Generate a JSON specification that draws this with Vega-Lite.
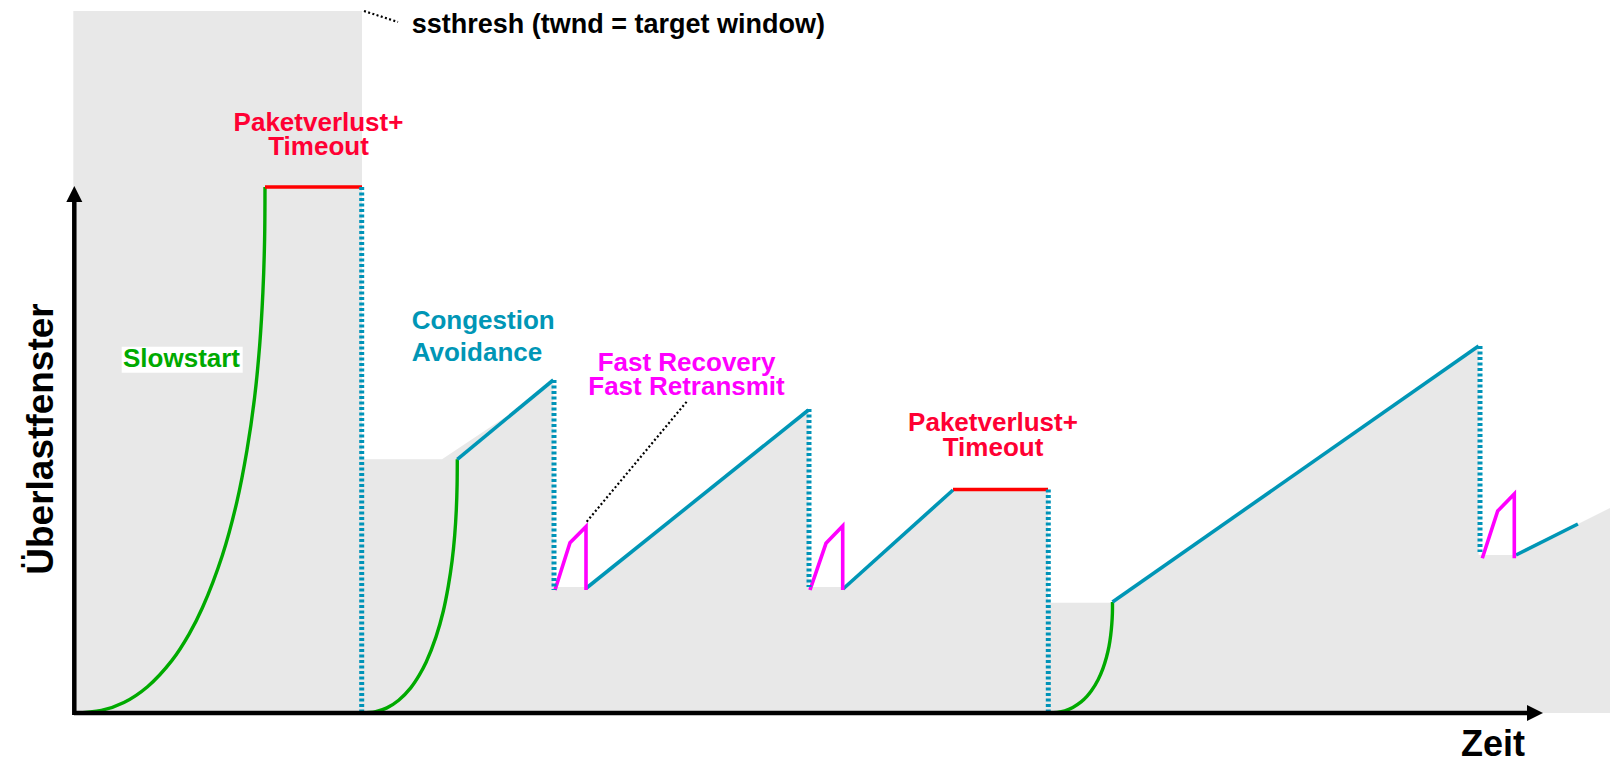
{
 "$schema": "https://vega.github.io/schema/vega-lite/v6.json",
 "width": 1610, "height": 764, "padding": 0,
 "autosize": {"type": "fit", "contains": "padding"},
 "background": "white",
 "config": {"view": {"stroke": null}},
 "datasets": {
  "band": [
   {"t":-0.7,"w":702},{"t":288,"w":702},{"t":288.01,"w":253.7},{"t":368,"w":253.7},
   {"t":439,"w":301},{"t":479.3,"w":333},{"t":479.31,"w":126},{"t":512,"w":126},
   {"t":734.5,"w":303},{"t":734.51,"w":126},{"t":769,"w":126},{"t":879,"w":223.5},
   {"t":974,"w":223.5},{"t":974.01,"w":110.3},{"t":1038.5,"w":110.3},{"t":1404.6,"w":367},
   {"t":1404.61,"w":158},{"t":1442,"w":158},{"t":1536,"w":205}
  ],
  "segs": [
   {"seg":"g1","kind":"slowstart","i":0,"t":0,"w":0},{"seg":"g1","kind":"slowstart","i":1,"t":27.4,"w":2.6},
   {"seg":"g1","kind":"slowstart","i":2,"t":49.9,"w":10.5},{"seg":"g1","kind":"slowstart","i":3,"t":73.5,"w":26.3},
   {"seg":"g1","kind":"slowstart","i":4,"t":98.0,"w":52.6},{"seg":"g1","kind":"slowstart","i":5,"t":115.1,"w":78.9},
   {"seg":"g1","kind":"slowstart","i":6,"t":128.4,"w":105.2},{"seg":"g1","kind":"slowstart","i":7,"t":148.4,"w":157.8},
   {"seg":"g1","kind":"slowstart","i":8,"t":162.7,"w":210.4},{"seg":"g1","kind":"slowstart","i":9,"t":173.0,"w":263},
   {"seg":"g1","kind":"slowstart","i":10,"t":180.6,"w":315.6},{"seg":"g1","kind":"slowstart","i":11,"t":185.7,"w":368.2},
   {"seg":"g1","kind":"slowstart","i":12,"t":188.9,"w":420.8},{"seg":"g1","kind":"slowstart","i":13,"t":190.6,"w":473.4},
   {"seg":"g1","kind":"slowstart","i":14,"t":191,"w":526},
   {"seg":"g2","kind":"slowstart","i":0,"t":288,"w":0},{"seg":"g2","kind":"slowstart","i":1,"t":301.7,"w":1.3},
   {"seg":"g2","kind":"slowstart","i":2,"t":312.9,"w":5.1},{"seg":"g2","kind":"slowstart","i":3,"t":324.7,"w":12.7},
   {"seg":"g2","kind":"slowstart","i":4,"t":336.9,"w":25.4},{"seg":"g2","kind":"slowstart","i":5,"t":345.4,"w":38.1},
   {"seg":"g2","kind":"slowstart","i":6,"t":352.1,"w":50.7},{"seg":"g2","kind":"slowstart","i":7,"t":362.0,"w":76.1},
   {"seg":"g2","kind":"slowstart","i":8,"t":369.2,"w":101.5},{"seg":"g2","kind":"slowstart","i":9,"t":374.3,"w":126.9},
   {"seg":"g2","kind":"slowstart","i":10,"t":378.1,"w":152.2},{"seg":"g2","kind":"slowstart","i":11,"t":380.7,"w":177.6},
   {"seg":"g2","kind":"slowstart","i":12,"t":382.3,"w":203},{"seg":"g2","kind":"slowstart","i":13,"t":383.1,"w":228.3},
   {"seg":"g2","kind":"slowstart","i":14,"t":383.3,"w":253.7},
   {"seg":"g3","kind":"slowstart","i":0,"t":974,"w":0},{"seg":"g3","kind":"slowstart","i":1,"t":983.2,"w":0.6},
   {"seg":"g3","kind":"slowstart","i":2,"t":990.8,"w":2.2},{"seg":"g3","kind":"slowstart","i":3,"t":998.8,"w":5.6},
   {"seg":"g3","kind":"slowstart","i":4,"t":1007.1,"w":11.1},{"seg":"g3","kind":"slowstart","i":5,"t":1012.9,"w":16.7},
   {"seg":"g3","kind":"slowstart","i":6,"t":1017.4,"w":22.2},{"seg":"g3","kind":"slowstart","i":7,"t":1024.1,"w":33.3},
   {"seg":"g3","kind":"slowstart","i":8,"t":1028.9,"w":44.4},{"seg":"g3","kind":"slowstart","i":9,"t":1032.4,"w":55.5},
   {"seg":"g3","kind":"slowstart","i":10,"t":1035.0,"w":66.6},{"seg":"g3","kind":"slowstart","i":11,"t":1036.7,"w":77.7},
   {"seg":"g3","kind":"slowstart","i":12,"t":1037.8,"w":88.8},{"seg":"g3","kind":"slowstart","i":13,"t":1038.4,"w":99.9},
   {"seg":"g3","kind":"slowstart","i":14,"t":1038.5,"w":111},
   {"seg":"r1","kind":"timeout","i":0,"t":191,"w":526},{"seg":"r1","kind":"timeout","i":1,"t":288,"w":526},
   {"seg":"r2","kind":"timeout","i":0,"t":879,"w":223.5},{"seg":"r2","kind":"timeout","i":1,"t":974,"w":223.5},
   {"seg":"b1","kind":"avoidance","i":0,"t":383.3,"w":253.7},{"seg":"b1","kind":"avoidance","i":1,"t":479.3,"w":333},
   {"seg":"b2","kind":"avoidance","i":0,"t":512.5,"w":125},{"seg":"b2","kind":"avoidance","i":1,"t":734.5,"w":303},
   {"seg":"b3","kind":"avoidance","i":0,"t":769,"w":124},{"seg":"b3","kind":"avoidance","i":1,"t":879,"w":223},
   {"seg":"b4","kind":"avoidance","i":0,"t":1038.5,"w":111},{"seg":"b4","kind":"avoidance","i":1,"t":1404.6,"w":367},
   {"seg":"b5","kind":"avoidance","i":0,"t":1442,"w":158},{"seg":"b5","kind":"avoidance","i":1,"t":1503.9,"w":189},
   {"seg":"m1","kind":"recovery","i":0,"t":481,"w":123},{"seg":"m1","kind":"recovery","i":1,"t":496,"w":170.3},
   {"seg":"m1","kind":"recovery","i":2,"t":512,"w":186.3},{"seg":"m1","kind":"recovery","i":3,"t":512,"w":123},
   {"seg":"m2","kind":"recovery","i":0,"t":736,"w":123},{"seg":"m2","kind":"recovery","i":1,"t":752,"w":169.7},
   {"seg":"m2","kind":"recovery","i":2,"t":768.7,"w":187},{"seg":"m2","kind":"recovery","i":3,"t":768.7,"w":123},
   {"seg":"m3","kind":"recovery","i":0,"t":1408.3,"w":154.7},{"seg":"m3","kind":"recovery","i":1,"t":1423.7,"w":202},
   {"seg":"m3","kind":"recovery","i":2,"t":1440.3,"w":219},{"seg":"m3","kind":"recovery","i":3,"t":1440.3,"w":154.7},
   {"seg":"d1","kind":"threshold","i":0,"t":287.7,"w":526},{"seg":"d1","kind":"threshold","i":1,"t":287.7,"w":0},
   {"seg":"d2","kind":"threshold","i":0,"t":480,"w":333},{"seg":"d2","kind":"threshold","i":1,"t":480,"w":123},
   {"seg":"d3","kind":"threshold","i":0,"t":735,"w":304},{"seg":"d3","kind":"threshold","i":1,"t":735,"w":126},
   {"seg":"d4","kind":"threshold","i":0,"t":974.3,"w":223.5},{"seg":"d4","kind":"threshold","i":1,"t":974.3,"w":0},
   {"seg":"d5","kind":"threshold","i":0,"t":1406,"w":367},{"seg":"d5","kind":"threshold","i":1,"t":1406,"w":161},
   {"seg":"a1","kind":"pointer","i":0,"t":290,"w":702},{"seg":"a1","kind":"pointer","i":1,"t":324,"w":691},
   {"seg":"a2","kind":"pointer","i":0,"t":512.7,"w":191.3},{"seg":"a2","kind":"pointer","i":1,"t":612.7,"w":311.3},
   {"seg":"ay","kind":"axis","i":0,"t":0.3,"w":-2},{"seg":"ay","kind":"axis","i":1,"t":0.3,"w":511},
   {"seg":"ax","kind":"axis","i":0,"t":0,"w":0},{"seg":"ax","kind":"axis","i":1,"t":1456,"w":0},
   {"seg":"bx","kind":"labelbox","i":0,"t":47.7,"w":353.3},{"seg":"bx","kind":"labelbox","i":1,"t":168.7,"w":353.3}
  ],
  "arrows": [{"dir":"up","t":0.3,"w":519},{"dir":"right","t":1461,"w":0}],
  "labels": [
   {"kind":"note","label":"ssthresh (twnd = target window)","t":337.7,"w":680},
   {"kind":"loss","label":"Paketverlust+","t":244.5,"w":582.3},
   {"kind":"loss","label":"Timeout","t":244.5,"w":558},
   {"kind":"avoidance","label":"Congestion","t":337.7,"w":383.7},
   {"kind":"avoidance","label":"Avoidance","t":337.7,"w":352.3},
   {"kind":"recovery","label":"Fast Recovery","t":612.5,"w":342.3},
   {"kind":"recovery","label":"Fast Retransmit","t":612.5,"w":318},
   {"kind":"loss","label":"Paketverlust+","t":919,"w":282.3},
   {"kind":"loss","label":"Timeout","t":919,"w":257},
   {"kind":"slowstart","label":"Slowstart","t":49,"w":346.3},
   {"kind":"xtitle","label":"Zeit","t":1419,"w":-50.5},
   {"kind":"ytitle","label":"Überlastfenster","t":-21,"w":274}
  ]
 },
 "encoding": {
  "x": {"field": "t", "type": "quantitative", "scale": {"domain": [-74, 1536], "nice": false, "zero": false}, "axis": null},
  "y": {"field": "w", "type": "quantitative", "stack": null, "scale": {"domain": [-51, 713], "nice": false, "zero": false}, "axis": null}
 },
 "layer": [
  {"data": {"name": "band"}, "mark": {"type": "area", "color": "#e8e8e8", "opacity": 1, "interpolate": "linear"}},
  {"data": {"name": "segs"}, "transform": [{"filter": "datum.kind === 'labelbox'"}],
   "mark": {"type": "line", "color": "#ffffff", "strokeWidth": 26},
   "encoding": {"detail": {"field": "seg"}, "order": {"field": "i", "type": "quantitative"}}},
  {"data": {"name": "segs"}, "transform": [{"filter": "datum.kind === 'slowstart'"}],
   "mark": {"type": "line", "color": "#00aa00", "strokeWidth": 3.4, "interpolate": "catmull-rom"},
   "encoding": {"detail": {"field": "seg"}, "order": {"field": "i", "type": "quantitative"}}},
  {"data": {"name": "segs"}, "transform": [{"filter": "datum.kind === 'timeout' || datum.kind === 'avoidance' || datum.kind === 'recovery'"}],
   "mark": {"type": "line", "strokeWidth": 3.6, "strokeJoin": "miter"},
   "encoding": {"detail": {"field": "seg"}, "order": {"field": "i", "type": "quantitative"},
    "color": {"field": "kind", "type": "nominal", "legend": null,
     "scale": {"domain": ["timeout", "avoidance", "recovery", "loss", "slowstart", "note", "xtitle", "ytitle"],
               "range": ["#ff0000", "#0096b6", "#ff00ff", "#ff0033", "#00aa00", "#000000", "#000000", "#000000"]}}}},
  {"data": {"name": "segs"}, "transform": [{"filter": "datum.kind === 'threshold'"}],
   "mark": {"type": "line", "color": "#0093b8", "strokeWidth": 5, "strokeDash": [3, 2.5], "opacity": 1},
   "encoding": {"detail": {"field": "seg"}, "order": {"field": "i", "type": "quantitative"}}},
  {"data": {"name": "segs"}, "transform": [{"filter": "datum.kind === 'pointer'"}],
   "mark": {"type": "line", "color": "#000000", "strokeWidth": 2.2, "strokeDash": [2, 2.4]},
   "encoding": {"detail": {"field": "seg"}, "order": {"field": "i", "type": "quantitative"}}},
  {"data": {"name": "segs"}, "transform": [{"filter": "datum.kind === 'axis'"}],
   "mark": {"type": "line", "color": "#000000", "strokeWidth": 4.5},
   "encoding": {"detail": {"field": "seg"}, "order": {"field": "i", "type": "quantitative"}}},
  {"data": {"name": "arrows"}, "mark": {"type": "point", "filled": true, "color": "#000000", "opacity": 1, "size": 256, "strokeWidth": 0},
   "encoding": {"shape": {"field": "dir", "type": "nominal", "legend": null,
     "scale": {"domain": ["up", "right"], "range": ["M0,-1L1,1L-1,1Z", "M1,0L-1,-1L-1,1Z"]}}}},
  {"data": {"name": "labels"}, "transform": [{"filter": "datum.kind === 'note'"}],
   "mark": {"type": "text", "align": "left", "baseline": "alphabetic", "font": "Liberation Sans", "fontWeight": "bold", "fontSize": 27, "color": "#000000"},
   "encoding": {"text": {"field": "label"}}},
  {"data": {"name": "labels"}, "transform": [{"filter": "datum.kind === 'avoidance' || datum.kind === 'slowstart'"}],
   "mark": {"type": "text", "align": "left", "baseline": "alphabetic", "font": "Liberation Sans", "fontWeight": "bold", "fontSize": 26},
   "encoding": {"text": {"field": "label"},
    "color": {"field": "kind", "type": "nominal", "legend": null,
     "scale": {"domain": ["timeout", "avoidance", "recovery", "loss", "slowstart", "note", "xtitle", "ytitle"],
               "range": ["#ff0000", "#0096b6", "#ff00ff", "#ff0033", "#00aa00", "#000000", "#000000", "#000000"]}}}},
  {"data": {"name": "labels"}, "transform": [{"filter": "datum.kind === 'loss' || datum.kind === 'recovery'"}],
   "mark": {"type": "text", "align": "center", "baseline": "alphabetic", "font": "Liberation Sans", "fontWeight": "bold", "fontSize": 26},
   "encoding": {"text": {"field": "label"},
    "color": {"field": "kind", "type": "nominal", "legend": null,
     "scale": {"domain": ["timeout", "avoidance", "recovery", "loss", "slowstart", "note", "xtitle", "ytitle"],
               "range": ["#ff0000", "#0096b6", "#ff00ff", "#ff0033", "#00aa00", "#000000", "#000000", "#000000"]}}}},
  {"data": {"name": "labels"}, "transform": [{"filter": "datum.kind === 'xtitle'"}],
   "mark": {"type": "text", "align": "center", "baseline": "bottom", "font": "Liberation Sans", "fontWeight": "bold", "fontSize": 36, "color": "#000000"},
   "encoding": {"text": {"field": "label"}}},
  {"data": {"name": "labels"}, "transform": [{"filter": "datum.kind === 'ytitle'"}],
   "mark": {"type": "text", "align": "center", "baseline": "alphabetic", "angle": 270, "font": "Liberation Sans", "fontWeight": "bold", "fontSize": 37, "color": "#000000"},
   "encoding": {"text": {"field": "label"}}}
 ]
}
